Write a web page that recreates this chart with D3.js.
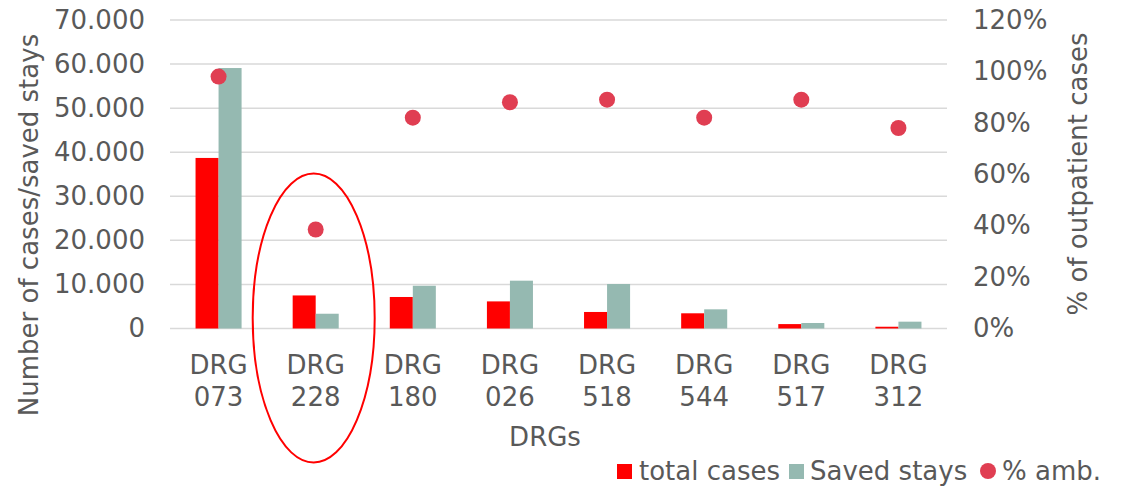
<!DOCTYPE html>
<html>
<head>
<meta charset="utf-8">
<script src="https://cdn.jsdelivr.net/npm/d3@7"></script>
<style>
  body { margin: 0; background: #fff; }
  text { font-family: "DejaVu Sans", Verdana, sans-serif; fill: #595959; }
</style>
</head>
<body>
<div id="chart"></div>
<script>
const categories = ["DRG 073", "DRG 228", "DRG 180", "DRG 026", "DRG 518", "DRG 544", "DRG 517", "DRG 312"];
const totalCases = [38700, 7500, 7150, 6150, 3750, 3450, 1000, 400];
const savedStays = [59100, 3350, 9700, 10850, 10100, 4350, 1250, 1550];
const pctAmb = [0.98, 0.385, 0.82, 0.88, 0.89, 0.82, 0.89, 0.78];
const leftTicks = [0, 10000, 20000, 30000, 40000, 50000, 60000, 70000];
const rightTicks = [0, 0.2, 0.4, 0.6, 0.8, 1.0, 1.2];
const highlighted = "DRG 228";

const width = 1127, height = 487;
const margin = { top: 20, right: 180, bottom: 158.5, left: 170 };
const plotW = 947 - margin.left;
const plotH = height - margin.top - margin.bottom;
const fontSize = "26px";

const svg = d3.select("#chart").append("svg")
    .attr("width", width)
    .attr("height", height);

const g = svg.append("g").attr("transform", `translate(${margin.left},${margin.top})`);

const x = d3.scaleBand().domain(categories).range([0, plotW])
    .paddingInner(0.526).paddingOuter(0.263);
const xSub = d3.scaleBand().domain(["total", "saved"]).range([0, x.bandwidth()]);
const y = d3.scaleLinear().domain([0, 70000]).range([plotH, 0]);
const y2 = d3.scaleLinear().domain([0, 1.2]).range([plotH, 0]);

// gridlines
g.selectAll(".grid")
    .data(leftTicks)
    .enter().append("line")
    .attr("x1", 0).attr("x2", plotW)
    .attr("y1", d => y(d)).attr("y2", d => y(d))
    .style("stroke", "#d9d9d9")
    .style("stroke-width", 1.5);

// left axis
const leftAxis = g.append("g")
    .call(d3.axisLeft(y).tickValues(leftTicks).tickSize(0).tickPadding(25)
        .tickFormat(d => d === 0 ? "0" : d3.format(",")(d).replace(/,/g, ".")));
leftAxis.select(".domain").remove();
leftAxis.selectAll("text").style("font-size", fontSize).style("fill", "#595959");

// right axis
const rightAxis = g.append("g")
    .attr("transform", `translate(${plotW},0)`)
    .call(d3.axisRight(y2).tickValues(rightTicks).tickSize(0).tickPadding(26)
        .tickFormat(d3.format(".0%")));
rightAxis.select(".domain").remove();
rightAxis.selectAll("text").style("font-size", fontSize).style("fill", "#595959");

// bars
const groups = g.selectAll(".grp")
    .data(categories)
    .enter().append("g")
    .attr("transform", d => `translate(${x(d)},0)`);

groups.append("rect")
    .attr("x", xSub("total"))
    .attr("width", xSub.bandwidth())
    .attr("y", (d, i) => y(totalCases[i]))
    .attr("height", (d, i) => plotH - y(totalCases[i]))
    .style("fill", "#ff0000");

groups.append("rect")
    .attr("x", xSub("saved"))
    .attr("width", xSub.bandwidth())
    .attr("y", (d, i) => y(savedStays[i]))
    .attr("height", (d, i) => plotH - y(savedStays[i]))
    .style("fill", "#95b9b1");

// % amb dots
g.selectAll(".dot")
    .data(categories)
    .enter().append("circle")
    .attr("cx", d => x(d) + x.bandwidth() / 2)
    .attr("cy", (d, i) => y2(pctAmb[i]))
    .attr("r", 8)
    .style("fill", "#e03e52");

// category labels
const catLabels = g.selectAll(".cat")
    .data(categories)
    .enter().append("text")
    .attr("x", d => x(d) + x.bandwidth() / 2)
    .attr("y", plotH + 45)
    .style("text-anchor", "middle")
    .style("font-size", fontSize);
catLabels.append("tspan").text(d => d.split(" ")[0]);
catLabels.append("tspan")
    .attr("x", d => x(d) + x.bandwidth() / 2)
    .attr("dy", 32)
    .text(d => d.split(" ")[1]);

// highlight ellipse
g.append("ellipse")
    .attr("cx", x(highlighted) + x.bandwidth() / 2 - 2)
    .attr("cy", 298)
    .attr("rx", 61)
    .attr("ry", 144.5)
    .style("fill", "none")
    .style("stroke", "#ff0000")
    .style("stroke-width", 2);

// axis titles
svg.append("text")
    .attr("x", 545).attr("y", 446)
    .style("text-anchor", "middle")
    .style("font-size", fontSize)
    .text("DRGs");

svg.append("text")
    .attr("transform", "translate(38,225) rotate(-90)")
    .style("text-anchor", "middle")
    .style("font-size", fontSize)
    .text("Number of cases/saved stays");

svg.append("text")
    .attr("transform", "translate(1087,174) rotate(-90)")
    .style("text-anchor", "middle")
    .style("font-size", fontSize)
    .text("% of outpatient cases");

// legend
const legend = svg.append("g").attr("transform", "translate(617,471)");
legend.append("rect").attr("x", 0).attr("y", -7).attr("width", 15).attr("height", 15).style("fill", "#ff0000");
legend.append("text").attr("x", 22).attr("y", 9).style("font-size", fontSize).text("total cases");
legend.append("rect").attr("x", 172).attr("y", -7).attr("width", 15).attr("height", 15).style("fill", "#95b9b1");
legend.append("text").attr("x", 193).attr("y", 9).style("font-size", fontSize).text("Saved stays");
legend.append("circle").attr("cx", 371).attr("cy", 0).attr("r", 8).style("fill", "#e03e52");
legend.append("text").attr("x", 385).attr("y", 9).style("font-size", fontSize).text("% amb.");
</script>
</body>
</html>
